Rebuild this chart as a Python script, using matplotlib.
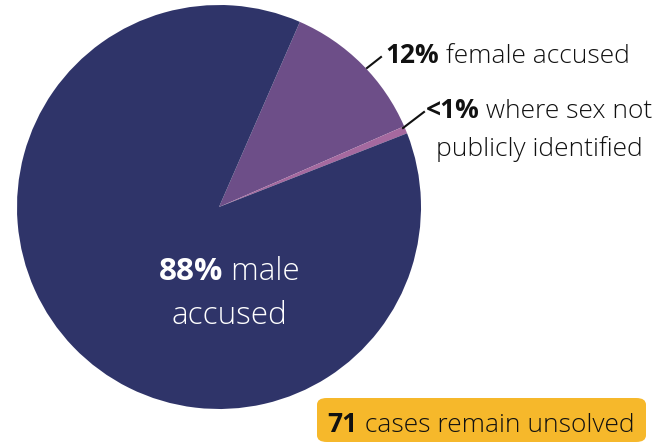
import matplotlib
matplotlib.use("Agg")
import matplotlib.pyplot as plt
from matplotlib.patches import FancyBboxPatch

plt.rcParams['font.family'] = ['Open Sans', 'DejaVu Sans']

labels = ["female accused", "where sex not publicly identified", "male accused"]
shares = [11.9, 0.6, 87.5]
share_text = ["12%", "<1%", "88%"]
colors = ["#6d4e88", "#a5699f", "#2f3469"]
unsolved = 71

W, H = 653, 445
fig = plt.figure(figsize=(W / 100, H / 100), dpi=100)
cx, cy, r = 219, 207, 202
ax = fig.add_axes([(cx - r) / W, (H - cy - r) / H, 2 * r / W, 2 * r / H])
ax.pie(shares, colors=colors, startangle=66.4, counterclock=False, radius=1,
       wedgeprops=dict(linewidth=0))
ax.set_xlim(-1, 1)
ax.set_ylim(-1, 1)
ax.set_aspect('equal')
ax.axis('off')

renderer = fig.canvas.get_renderer()


def px(x, y):
    return x / W, 1 - y / H


def rich_line(x, y, parts, size, color, ha='left'):
    # parts: list of (text, weight); y is baseline in pixels from the top
    arts = []
    for txt, wt in parts:
        t = fig.text(0, 0, txt, fontsize=size, fontweight=wt, color=color,
                     va='baseline', ha='left')
        arts.append(t)
    widths = [a.get_window_extent(renderer).width for a in arts]
    total = sum(widths)
    start = x - total / 2 if ha == 'center' else x
    for a, w in zip(arts, widths):
        a.set_position(px(start, y))
        start += w


# male label
rich_line(229, 280, [(share_text[2], 'bold'), (" male", 'light')], 22.6, 'white', 'center')
rich_line(229, 324, [("accused", 'light')], 22.6, 'white', 'center')

# female label
rich_line(385, 63, [(share_text[0], 'bold'), (" " + labels[0], 'light')], 19, '#111111')
fig.add_artist(plt.Line2D([367 / W, 381 / W], [1 - 68 / H, 1 - 57 / H], color='#111111', lw=1.5))

# unidentified label
rich_line(539, 118, [(share_text[1], 'bold'), (" where sex not", 'light')], 19, '#111111', 'center')
rich_line(539, 156, [("publicly identified", 'light')], 19, '#111111', 'center')
fig.add_artist(plt.Line2D([403 / W, 424 / W], [1 - 128 / H, 1 - 112 / H], color='#111111', lw=1.5))

# unsolved box
box = FancyBboxPatch((317 / W, 1 - 442 / H), 329 / W, 44 / H,
                     boxstyle="round,pad=0,rounding_size=0.015",
                     transform=fig.transFigure, facecolor="#f6b82b", edgecolor='none')
fig.add_artist(box)
rich_line(481, 432, [(str(unsolved), 'bold'), (" cases remain unsolved", 'light')], 19, '#111111', 'center')

fig.savefig("out.png", dpi=100)
